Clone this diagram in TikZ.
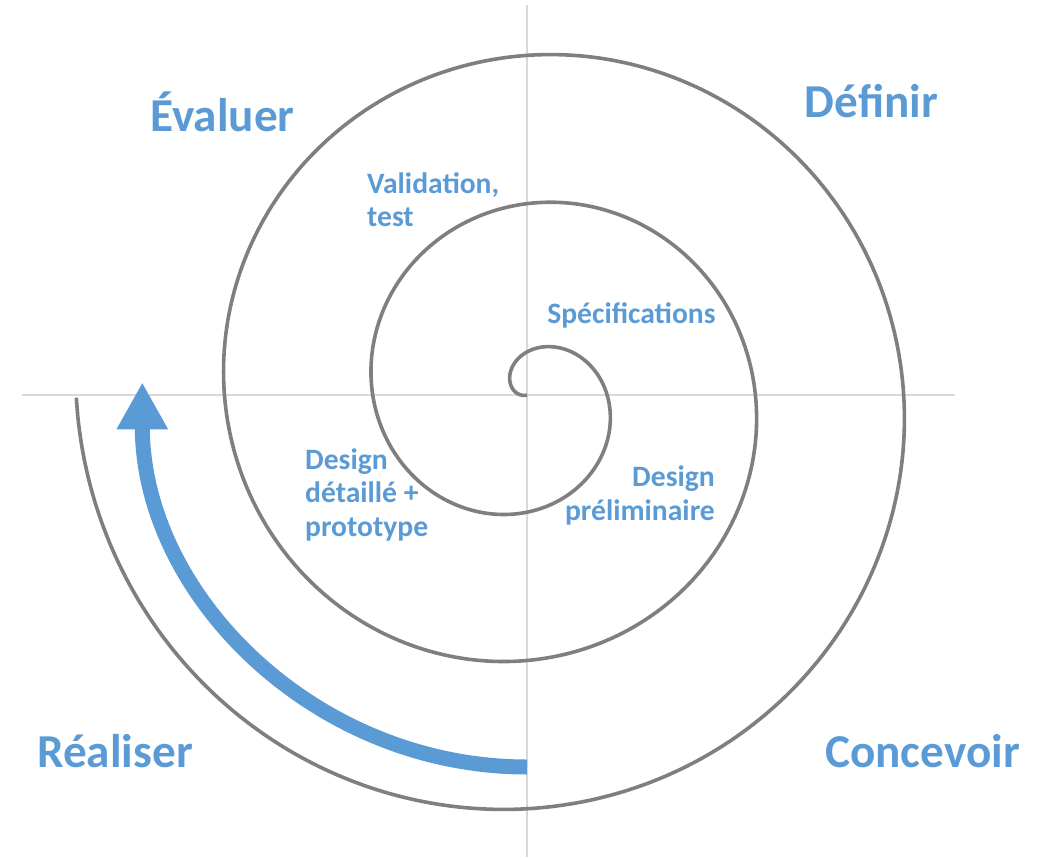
\documentclass[tikz,border=0pt]{standalone}
\usepackage{fontspec}
\setmainfont{Carlito}
\usetikzlibrary{arrows.meta}
\definecolor{phaseblue}{HTML}{5B9BD5}
\definecolor{spiralgray}{HTML}{7F7F7F}
\definecolor{axisgray}{HTML}{D9D9D9}
\tikzset{
	axis/.style 	= {draw = axisgray, line width = 2pt},
	spiral/.style 	= {draw = spiralgray, line width = 3.6pt},
	phase/.style 	= {
		text = phaseblue,
		inner sep = 0,
		anchor = base,
		font = \fontsize{47.2}{56}\selectfont\bfseries},
	task/.style 	= {
		text = phaseblue,
		inner sep = 0,
		font = \fontsize{29.6}{33.5}\selectfont\bfseries},
	cycle arrow/.style = {
		draw = phaseblue,
		line width = 15pt,
		-{Triangle[length = 47pt, width = 48pt]}},
}

\begin{document}
\begin{tikzpicture}[x = 1pt, y = 1pt]
\useasboundingbox (-527,-462) rectangle (513,395);
% quadrants
\coordinate (axis top) at (0,390);
\coordinate (axis bottom) at (0,-462);
\coordinate (axis left) at (-505,0);
\coordinate (axis right) at (428,0);
\draw[axis] (axis left) -- (axis right);
\draw[axis] (axis top) -- (axis bottom);
% three turns, r grows 37pt per quarter turn
\draw[spiral] plot[domain = -0.162:12, samples = 400, smooth]
	({(6+37.07*\x)*cos(180-90*\x)}, {(6+37.07*\x)*sin(180-90*\x)});
% return arrow
\coordinate (arrow start) at (0,-372);
\draw[cycle arrow] (arrow start) arc[start angle = 270, end angle = 180, radius = 384.7];
% phases
\node[phase] (evaluer) at (-304.5,263) {Évaluer};
\node[phase] (definir) at (344.5,277) {Définir};
\node[phase] (realiser) at (-412,-372) {Réaliser};
\node[phase] (concevoir) at (395.5,-372) {Concevoir};
% steps along the spiral (base = last line)
\node[task, anchor = base] (specs) at (104.5,71.7) {Spécifications};
\node[task, anchor = base east, align = right] (prelim) at (188,-125) {Design\\préliminaire};
\node[task, anchor = base west, align = left] (detail) at (-222,-141) {Design\\détaillé +\\prototype};
\node[task, anchor = base west, align = left] (valid) at (-160,168.3) {Validation,\\test};
\end{tikzpicture}
\end{document}
